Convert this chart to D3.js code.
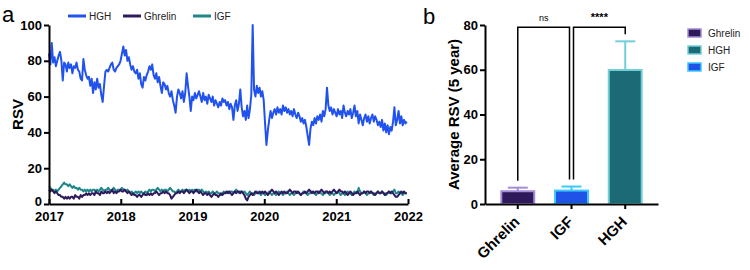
<!DOCTYPE html>
<html>
<head>
<meta charset="utf-8">
<script src="https://cdn.jsdelivr.net/npm/d3@7"></script>
<style>
    body { margin: 0; background: #fff; }
    svg { display: block; font-family: 'Liberation Sans', Arial, sans-serif; }
    .axis path, .axis line { stroke: #000; stroke-width: 2px; }
    .axis text { font-size: 13px; font-weight: bold; fill: #000; font-family: 'Liberation Sans', Arial, sans-serif; }
    .legend-text { font-size: 10px; fill: #222; }
</style>
</head>
<body>
<svg id="chart" width="750" height="270"></svg>
<script>
// weekly RSV, first week of 2017 to end of 2021
const seriesNames = ['HGH', 'Ghrelin', 'IGF'];

const hghValues = [
    84, 78, 90, 79, 82, 77, 80, 83, 85, 80, 69, 79, 78, 74, 79, 76, 78, 73, 77, 76, 79, 75, 74, 70, 69, 81, 75, 72, 70, 71, 66, 70, 62, 68, 64, 70, 65, 67, 61, 57, 66, 74, 75, 74, 76, 78, 79, 75, 74, 76, 77, 78,
    80, 84, 88, 83, 86, 80, 82, 78, 75, 77, 74, 73, 75, 70, 73, 67, 65, 71, 69, 72, 74, 77, 75, 78, 72, 70, 73, 68, 71, 66, 62, 68, 67, 64, 66, 62, 60, 63, 58, 55, 51, 60, 64, 62, 59, 63, 57, 62, 73, 66, 60, 52,
    60, 58, 62, 59, 61, 63, 60, 57, 62, 58, 60, 56, 61, 59, 57, 60, 55, 58, 56, 54, 57, 55, 59, 57, 58, 55, 57, 53, 56, 54, 47, 55, 58, 52, 56, 64, 54, 49, 52, 47, 55, 48, 53, 61, 100, 64, 60, 66, 62, 65, 60, 63,
    58, 45, 33, 41, 47, 52, 48, 51, 53, 50, 54, 51, 53, 50, 55, 52, 54, 51, 53, 50, 52, 49, 53, 50, 48, 51, 49, 46, 48, 45, 47, 43, 38, 33, 42, 46, 44, 48, 45, 49, 47, 50, 46, 52, 49, 53, 65, 55, 52, 54, 50, 53,
    51, 49, 53, 50, 52, 48, 55, 51, 49, 52, 50, 53, 48, 51, 55, 49, 52, 45, 50, 47, 44, 48, 50, 46, 49, 45, 48, 50, 46, 49, 47, 44, 46, 43, 47, 41, 45, 40, 44, 39, 43, 41, 46, 54, 44, 47, 52, 45, 49, 44, 47, 45,
    46
];

const ghrelinValues = [
    8, 7, 8, 7, 6, 7, 6, 5, 5, 4, 4, 3, 4, 3, 4, 3, 4, 4, 3, 5, 4, 4, 3, 5, 4, 5, 5, 6, 5, 6, 5, 6, 6, 5, 7, 6, 6, 5, 7, 6, 6, 7, 6, 7, 6, 7, 8, 6, 7, 6, 7, 7,
    8, 7, 7, 8, 7, 6, 7, 6, 5, 6, 5, 5, 4, 5, 5, 4, 5, 6, 5, 5, 6, 5, 6, 5, 6, 6, 7, 6, 5, 6, 6, 7, 6, 7, 6, 6, 5, 3, 4, 5, 6, 6, 7, 6, 7, 7, 6, 7, 8, 7, 6, 7,
    7, 6, 7, 8, 7, 6, 7, 6, 5, 6, 6, 5, 6, 5, 4, 5, 6, 5, 5, 4, 5, 6, 5, 6, 6, 7, 6, 7, 6, 5, 6, 7, 6, 7, 7, 6, 7, 6, 5, 3, 2, 4, 5, 6, 5, 6, 7, 6, 6, 7, 6, 7,
    6, 7, 6, 5, 6, 7, 8, 7, 6, 7, 6, 5, 6, 7, 6, 7, 6, 6, 7, 8, 7, 6, 7, 7, 6, 7, 6, 5, 6, 6, 7, 6, 7, 8, 7, 6, 7, 6, 7, 7, 6, 7, 8, 7, 6, 7, 7, 6, 7, 6, 7, 8,
    7, 6, 7, 8, 7, 7, 6, 7, 6, 5, 6, 7, 6, 5, 6, 6, 7, 6, 5, 6, 6, 7, 6, 7, 7, 6, 7, 6, 6, 5, 6, 7, 6, 6, 7, 6, 5, 6, 6, 7, 6, 7, 6, 5, 4, 4, 5, 6, 7, 6, 7, 6,
    6
];

const igfValues = [
    10, 9, 8, 8, 7, 8, 7, 8, 9, 10, 11, 12, 11, 11, 10, 11, 10, 9, 10, 9, 9, 8, 9, 8, 8, 7, 8, 7, 8, 7, 8, 7, 8, 8, 7, 8, 7, 8, 9, 8, 7, 8, 8, 9, 8, 7, 8, 9, 8, 7, 8, 8,
    8, 9, 8, 8, 7, 8, 7, 6, 7, 6, 6, 7, 6, 7, 6, 7, 6, 6, 7, 6, 7, 8, 7, 8, 8, 7, 8, 9, 8, 7, 8, 7, 8, 8, 7, 8, 9, 8, 7, 7, 6, 7, 8, 7, 7, 8, 7, 8, 8, 7, 8, 7,
    8, 7, 8, 7, 8, 8, 7, 8, 7, 6, 7, 6, 7, 6, 6, 7, 6, 6, 7, 6, 6, 5, 6, 7, 6, 6, 7, 6, 7, 7, 6, 7, 8, 7, 6, 7, 7, 6, 7, 6, 5, 6, 7, 6, 6, 5, 6, 7, 6, 6, 5, 6,
    6, 5, 6, 6, 7, 6, 5, 6, 6, 5, 6, 7, 6, 6, 5, 6, 6, 7, 6, 5, 6, 6, 5, 6, 7, 6, 6, 5, 6, 7, 6, 6, 5, 6, 6, 7, 6, 6, 5, 6, 7, 6, 6, 5, 6, 6, 7, 6, 5, 6, 6, 5,
    6, 6, 7, 6, 5, 6, 6, 5, 6, 7, 6, 6, 5, 6, 7, 6, 6, 9, 7, 6, 6, 7, 6, 5, 6, 6, 7, 6, 5, 6, 6, 7, 6, 6, 7, 6, 6, 5, 6, 7, 6, 6, 7, 8, 6, 6, 7, 6, 6, 5, 6, 6,
    6
];

const yearTicks = [2017, 2018, 2019, 2020, 2021, 2022];
const rsvTicks = [0, 20, 40, 60, 80, 100];

// panel b
const barLabels = ['Ghrelin', 'IGF', 'HGH'];
const barMeans = [5.7, 6.0, 59.9];
const barErrors = [1.6, 1.8, 12.8];
const barTicks = [0, 20, 40, 60, 80];
const legendLabels = ['Ghrelin', 'HGH', 'IGF'];
const comparisons = [
    { from: 'Ghrelin', to: 'IGF', label: 'ns' },
    { from: 'IGF', to: 'HGH', label: '****' }
];

const lineColor = { HGH: '#2152ee', Ghrelin: '#2e1a5e', IGF: '#1f8689' };
const barFill = { Ghrelin: '#2e1a5a', IGF: '#2152e8', HGH: '#1c6a76' };
const barEdge = { Ghrelin: '#a48bd8', IGF: '#3cc8fa', HGH: '#73cfd8' };

const svg = d3.select('#chart');
const startDate = new Date(2017, 0, 1);
const weekDate = i => d3.timeDay.offset(startDate, i * 7);

// ---------- panel a : line chart ----------
const xTime = d3.scaleTime()
    .domain([new Date(2017, 0, 1), new Date(2022, 0, 1)])
    .range([49, 408]);
const yRsv = d3.scaleLinear().domain([0, 100]).range([204, 25]);

const line = d3.line()
    .x((d, i) => xTime(weekDate(i)))
    .y(d => yRsv(d));

const lineG = svg.append('g');
const seriesData = { HGH: hghValues, Ghrelin: ghrelinValues, IGF: igfValues };
['HGH', 'IGF', 'Ghrelin'].forEach(name => {
    lineG.append('path')
        .datum(seriesData[name])
        .attr('fill', 'none')
        .attr('stroke', lineColor[name])
        .attr('stroke-width', 2)
        .attr('stroke-linejoin', 'round')
        .attr('d', line);
});

svg.append('g')
    .attr('class', 'axis')
    .attr('transform', `translate(0,${yRsv(0)})`)
    .call(d3.axisBottom(xTime)
        .tickValues(yearTicks.map(y => new Date(y, 0, 1)))
        .tickFormat(d3.timeFormat('%Y'))
        .tickSizeInner(-5)
        .tickSizeOuter(0)
        .tickPadding(8));

const yAxisA = svg.append('g')
    .attr('class', 'axis')
    .attr('transform', `translate(${xTime.range()[0]},0)`)
    .call(d3.axisLeft(yRsv).tickValues(rsvTicks).tickSize(5).tickSizeOuter(0).tickPadding(2));
// lift the zero label a little so it clears the year labels
yAxisA.selectAll('text').filter(d => d === 0).attr('dy', '0.1em');

svg.append('text')
    .attr('transform', `translate(23,${(yRsv(0) + yRsv(100)) / 2}) rotate(-90)`)
    .attr('text-anchor', 'middle')
    .style('font-size', '15px')
    .style('font-weight', 'bold')
    .text('RSV');

// top legend
const topLegendX = [68, 123, 193];
seriesNames.forEach((name, i) => {
    svg.append('line')
        .attr('x1', topLegendX[i]).attr('x2', topLegendX[i] + 18)
        .attr('y1', 16).attr('y2', 16)
        .attr('stroke', lineColor[name])
        .attr('stroke-width', 3);
    svg.append('text')
        .attr('class', 'legend-text')
        .attr('x', topLegendX[i] + 21)
        .attr('y', 19.5)
        .text(name);
});

svg.append('text').attr('x', 2).attr('y', 22).style('font-size', '22px').text('a');
svg.append('text').attr('x', 423).attr('y', 24).style('font-size', '22px').text('b');

// ---------- panel b : bar chart ----------
const xBand = d3.scaleBand()
    .domain(barLabels)
    .range([485, 658])
    .paddingInner(0.35)
    .paddingOuter(0.285);
const yAvg = d3.scaleLinear().domain([0, 80]).range([204, 25]);

const bars = barLabels.map((label, i) => ({ label, mean: barMeans[i], err: barErrors[i] }));
const barG = svg.append('g');

// error bars
barG.selectAll('.err')
    .data(bars)
    .join('line')
    .attr('class', 'err')
    .attr('x1', d => xBand(d.label) + xBand.bandwidth() / 2)
    .attr('x2', d => xBand(d.label) + xBand.bandwidth() / 2)
    .attr('y1', d => yAvg(d.mean))
    .attr('y2', d => yAvg(d.mean + d.err))
    .attr('stroke', d => barEdge[d.label])
    .attr('stroke-width', 2);

barG.selectAll('.cap')
    .data(bars)
    .join('line')
    .attr('class', 'cap')
    .attr('x1', d => xBand(d.label) + xBand.bandwidth() / 2 - 10)
    .attr('x2', d => xBand(d.label) + xBand.bandwidth() / 2 + 10)
    .attr('y1', d => yAvg(d.mean + d.err))
    .attr('y2', d => yAvg(d.mean + d.err))
    .attr('stroke', d => barEdge[d.label])
    .attr('stroke-width', 2);

barG.selectAll('.bar')
    .data(bars)
    .join('rect')
    .attr('class', 'bar')
    .attr('x', d => xBand(d.label) + 1)
    .attr('width', xBand.bandwidth() - 2)
    .attr('y', d => yAvg(d.mean))
    .attr('height', d => yAvg(0) - yAvg(d.mean))
    .attr('fill', d => barFill[d.label])
    .attr('stroke', d => barEdge[d.label])
    .attr('stroke-width', 2);

const xAxisB = svg.append('g')
    .attr('class', 'axis')
    .attr('transform', `translate(0,${yAvg(0)})`)
    .call(d3.axisBottom(xBand).tickSize(5).tickSizeOuter(0).tickPadding(4));
xAxisB.selectAll('text')
    .attr('y', 0)
    .attr('text-anchor', 'end')
    .attr('dy', '0.35em')
    .attr('transform', 'translate(-1,15) rotate(-45)')
    .style('font-size', '15px');

svg.append('g')
    .attr('class', 'axis')
    .attr('transform', `translate(${xBand.range()[0]},0)`)
    .call(d3.axisLeft(yAvg).tickValues(barTicks).tickSize(5).tickSizeOuter(0).tickPadding(2));

svg.append('text')
    .attr('transform', `translate(459,${(yAvg(0) + yAvg(80)) / 2}) rotate(-90)`)
    .attr('text-anchor', 'middle')
    .style('font-size', '15px')
    .style('font-weight', 'bold')
    .text('Average RSV (5 year)');

// significance brackets
const bracketTop = yAvg(79);
const center = label => xBand(label) + xBand.bandwidth() / 2;
const barByLabel = label => bars.find(b => b.label === label);
comparisons.forEach(c => {
    const x1 = center(c.from) + (c.from === 'IGF' ? 2 : 0);
    const x2 = center(c.to) - (c.to === 'IGF' ? 2 : 0);
    const b1 = barByLabel(c.from), b2 = barByLabel(c.to);
    const y1 = yAvg(b1.mean + b1.err) - 7;
    const y2 = yAvg(b2.mean + b2.err) - 7;
    svg.append('path')
        .attr('d', `M${x1},${y1}V${bracketTop}H${x2}V${y2}`)
        .attr('fill', 'none')
        .attr('stroke', '#000')
        .attr('stroke-width', 1.5);
    svg.append('text')
        .attr('x', (x1 + x2) / 2)
        .attr('y', bracketTop - 6)
        .attr('text-anchor', 'middle')
        .style('font-size', c.label === 'ns' ? '9px' : '11px')
        .style('font-weight', c.label === 'ns' ? 'normal' : 'bold')
        .text(c.label);
});

// right legend
legendLabels.forEach((name, i) => {
    const y = 33 + i * 17;
    svg.append('rect')
        .attr('x', 688).attr('y', y - 4)
        .attr('width', 13).attr('height', 8)
        .attr('fill', barFill[name])
        .attr('stroke', barEdge[name])
        .attr('stroke-width', 1.5);
    svg.append('text')
        .attr('class', 'legend-text')
        .attr('x', 708)
        .attr('y', y + 3.5)
        .text(name);
});
</script>
</body>
</html>
